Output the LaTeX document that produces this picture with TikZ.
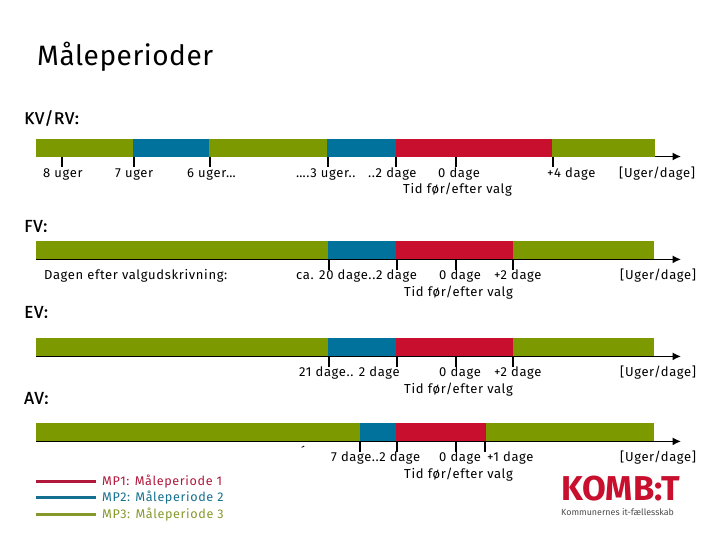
\documentclass[tikz,border=0pt]{standalone}
\usepackage{fontspec}
\setmainfont[LetterSpace=5]{Fira Sans}
\newfontfamily\headfont[LetterSpace=4,FakeBold=0.6]{Fira Sans}
\newfontfamily\titlefont[LetterSpace=2]{Fira Sans}
\newfontfamily\logofont{Fira Sans}
\usetikzlibrary{arrows.meta,positioning}
\definecolor{mpgreen}{HTML}{7C9900}
\definecolor{mpblue}{HTML}{00729B}
\definecolor{mpred}{HTML}{C8102E}
\definecolor{legred}{HTML}{B0173A}
\definecolor{legblue}{HTML}{156F8F}
\definecolor{leggreen}{HTML}{85992A}
\begin{document}
\begin{tikzpicture}[x=1pt,y=-1pt,>=Latex,node distance=0pt]
  \tikzset{
    barseg/.style={inner sep=0pt,outer sep=0pt,minimum height=18pt},
    axisline/.style={black,line width=1.3pt,-{Latex[length=8.5pt,width=8pt]}},
    tick/.style={black,line width=1.4pt},
    datelabel/.style={anchor=west,inner sep=0pt,yshift=-1.5pt,text height=8pt,text depth=2.5pt,font=\fontsize{13}{15}\selectfont},
    leglabel/.style={anchor=west,inner sep=0pt,yshift=-1pt,text height=8pt,text depth=2.5pt,font=\fontsize{12.6}{14}\selectfont},
    headlabel/.style={anchor=west,inner sep=0pt,font=\headfont\fontsize{17}{19}\selectfont},
    legline/.style={line width=3.6pt}
  }
  \useasboundingbox (0,0) rectangle (720,540);
  \node[anchor=west,inner sep=0pt,font=\titlefont\fontsize{28}{32}\selectfont] (title) at (37,57) {Måleperioder};
  % KV/RV
  \node[headlabel] (kvhead) at (24,118) {KV/RV:};
  \coordinate (kvend) at (681,156.5);
  \node[barseg,fill=mpgreen,minimum width=97pt,anchor=west] (kva) at (36,148) {};
  \node[barseg,fill=mpblue,minimum width=76pt,right=of kva] (kvb) {};
  \node[barseg,fill=mpgreen,minimum width=118pt,right=of kvb] (kvc) {};
  \node[barseg,fill=mpblue,minimum width=69pt,right=of kvc] (kvd) {};
  \node[barseg,fill=mpred,minimum width=156pt,right=of kvd] (kve) {};
  \node[barseg,fill=mpgreen,minimum width=103pt,right=of kve] (kvf) {};
  \draw[axisline] ([yshift=0.5pt]kvf.south east) -- (kvend);
  \draw[tick] ([xshift=26pt]kva.south west) -- ++(0,10);
  \draw[tick] ([xshift=1pt]kvb.south west) -- ++(0,10);
  \draw[tick] ([xshift=1pt]kvc.south west) -- ++(0,10);
  \draw[tick] ([xshift=1pt]kvd.south west) -- ++(0,10);
  \draw[tick] (kve.south west) -- ++(0,10);
  \draw[tick] ([xshift=60pt]kve.south west) -- ++(0,10);
  \draw[tick] ([xshift=1pt]kvf.south west) -- ++(0,10);
  \node[datelabel] (kvla) at (43,173) {8 uger};
  \node[datelabel] (kvlb) at (115,173) {7 uger};
  \node[datelabel] (kvlc) at (187,173) {6 uger…};
  \node[datelabel] (kvld) at (296,173) {….3 uger..};
  \node[datelabel] (kvle) at (368,173) {..2 dage};
  \node[datelabel] (kvlf) at (438,173) {0 dage};
  \node[datelabel] (kvlg) at (547,173) {+4 dage};
  \node[datelabel] (kvunit) at (619,173) {[Uger/dage]};
  \node[datelabel] (kvtid) at (403,189) {Tid før/efter valg};
  % FV
  \node[headlabel] (fvhead) at (24,226) {FV:};
  \coordinate (fvend) at (681,259.4);
  \node[barseg,fill=mpgreen,minimum width=292pt,anchor=west] (fva) at (36,250) {};
  \node[barseg,fill=mpblue,minimum width=68pt,right=of fva] (fvb) {};
  \node[barseg,fill=mpred,minimum width=117pt,right=of fvb] (fvc) {};
  \node[barseg,fill=mpgreen,minimum width=141pt,right=of fvc] (fvd) {};
  \draw[axisline] ([yshift=-0.4pt]fva.south west) -- (fvend);
  \draw[tick] ([xshift=1pt]fvb.south west) -- ++(0,11);
  \draw[tick] ([xshift=1pt]fvc.south west) -- ++(0,11);
  \draw[tick] ([xshift=60pt]fvc.south west) -- ++(0,11);
  \draw[tick] (fvd.south west) -- ++(0,11);
  \node[datelabel] (fvla) at (44,275) {Dagen efter valgudskrivning:};
  \node[datelabel] (fvlb) at (296,275) {ca. 20 dage..2 dage};
  \node[datelabel] (fvlc) at (439,275) {0 dage};
  \node[datelabel] (fvld) at (494,275) {+2 dage};
  \node[datelabel] (fvunit) at (620,275) {[Uger/dage]};
  \node[datelabel] (fvtid) at (404,292) {Tid før/efter valg};
  % EV
  \node[headlabel] (evhead) at (24,312) {EV:};
  \coordinate (evend) at (681,356.4);
  \node[barseg,fill=mpgreen,minimum width=292pt,anchor=west] (eva) at (36,347) {};
  \node[barseg,fill=mpblue,minimum width=68pt,right=of eva] (evb) {};
  \node[barseg,fill=mpred,minimum width=117pt,right=of evb] (evc) {};
  \node[barseg,fill=mpgreen,minimum width=141pt,right=of evc] (evd) {};
  \draw[axisline] ([yshift=-0.4pt]eva.south west) -- (evend);
  \draw[tick] ([xshift=1pt]evb.south west) -- ++(0,11);
  \draw[tick] ([xshift=1pt]evc.south west) -- ++(0,11);
  \draw[tick] ([xshift=60pt]evc.south west) -- ++(0,11);
  \draw[tick] (evd.south west) -- ++(0,11);
  \node[datelabel] (evlb) at (299,372) {21 dage.. 2 dage};
  \node[datelabel] (evlc) at (439,372) {0 dage};
  \node[datelabel] (evld) at (494,372) {+2 dage};
  \node[datelabel] (evunit) at (620,372) {[Uger/dage]};
  \node[datelabel] (evtid) at (404,389) {Tid før/efter valg};
  % AV
  \node[headlabel] (avhead) at (24,398) {AV:};
  \coordinate (avend) at (681,441.4);
  \node[barseg,fill=mpgreen,minimum width=324pt,anchor=west] (ava) at (36,432) {};
  \node[barseg,fill=mpblue,minimum width=36pt,right=of ava] (avb) {};
  \node[barseg,fill=mpred,minimum width=90pt,right=of avb] (avc) {};
  \node[barseg,fill=mpgreen,minimum width=168pt,right=of avc] (avd) {};
  \draw[axisline] ([yshift=-0.4pt]ava.south west) -- (avend);
  \draw[tick] (avb.south west) -- ++(0,11);
  \draw[tick] ([xshift=1pt]avc.south west) -- ++(0,11);
  \draw[tick] ([xshift=60pt]avc.south west) -- ++(0,11);
  \draw[tick] ([xshift=-1pt]avd.south west) -- ++(0,11);
  \node[datelabel] (avmark) at (301,452) {´};
  \node[datelabel] (avlb) at (331,457) {7 dage..2 dage};
  \node[datelabel] (avlc) at (439,457) {0 dage};
  \node[datelabel] (avld) at (487,457) {+1 dage};
  \node[datelabel] (avunit) at (620,457) {[Uger/dage]};
  \node[datelabel] (avtid) at (404,474) {Tid før/efter valg};
  % legend
  \coordinate (lega) at (36,481.5);
  \coordinate (legb) at (36,497.5);
  \coordinate (legc) at (36,514.5);
  \draw[legline,legred] (lega) -- ++(60,0);
  \draw[legline,legblue] (legb) -- ++(60,0);
  \draw[legline,leggreen] (legc) -- ++(60,0);
  \node[leglabel,text=legred] (legla) at (102,481.5) {MP1: Måleperiode 1};
  \node[leglabel,text=legblue] (leglb) at (102,497.5) {MP2: Måleperiode 2};
  \node[leglabel,text=leggreen] (leglc) at (102,514.5) {MP3: Måleperiode 3};
  % logo
  \node[anchor=west,inner sep=0pt,text=mpred,font=\logofont\bfseries\fontsize{34.5}{38}\selectfont] (logo) at (561,489) {KOMB:T};
  \node[anchor=west,inner sep=0pt,text=black!70,font=\logofont\fontsize{8.9}{10}\selectfont] (logosub) at (561,512) {Kommunernes it-fællesskab};
\end{tikzpicture}
\end{document}
